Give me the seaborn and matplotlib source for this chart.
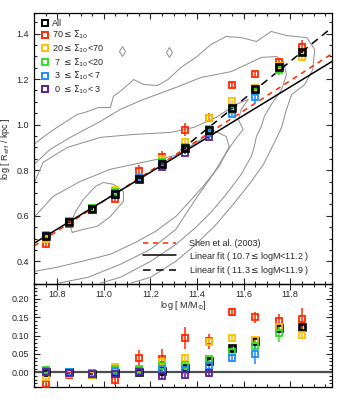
import numpy as np
import matplotlib
matplotlib.use("Agg")
import matplotlib.pyplot as plt
from matplotlib.lines import Line2D
from matplotlib.ticker import MultipleLocator, FormatStrFormatter
import seaborn as sns

# mass bins (log M/Msun)
logm = [10.75, 10.85, 10.95, 11.05, 11.15, 11.25, 11.35, 11.45, 11.55, 11.65, 11.75, 11.85]
nan = np.nan

# log Reff per environment bin
reff_all = [0.512, 0.573, 0.631, 0.694, 0.762, 0.827, 0.897, 0.977, 1.074, 1.157, 1.254, 1.320]
reff_s70 = [0.477, 0.565, 0.632, 0.675, 0.798, 0.859, 0.978, 1.031, 1.173, 1.222, 1.273, 1.341]
reff_s20 = [0.498, 0.569, 0.629, 0.711, 0.766, 0.851, 0.925, 1.029, 1.102, 1.160, 1.256, 1.299]
reff_s7 = [0.516, 0.575, 0.633, 0.705, 0.770, 0.838, 0.904, 0.982, 1.063, 1.144, 1.241, nan]
reff_s3 = [0.513, 0.573, 0.631, 0.700, 0.764, 0.830, 0.892, 0.963, 1.047, 1.121, nan, nan]
reff_s0 = [0.512, 0.572, 0.630, 0.693, 0.760, 0.812, 0.877, 0.946, nan, nan, nan, nan]

# residuals from the low-mass linear fit
res_all = [0.002, 0.000, -0.004, -0.003, 0.002, 0.005, 0.012, 0.030, 0.065, 0.085, 0.120, 0.123]
res_s70 = [-0.033, -0.008, -0.003, -0.022, 0.038, 0.037, 0.093, 0.084, 0.164, 0.150, 0.139, 0.144]
res_s20 = [-0.012, -0.004, -0.006, 0.014, 0.006, 0.029, 0.040, 0.082, 0.093, 0.088, 0.122, 0.102]
res_s7 = [0.006, 0.002, -0.002, 0.008, 0.010, 0.016, 0.019, 0.035, 0.054, 0.072, 0.107, nan]
res_s3 = [0.003, 0.000, -0.004, 0.003, 0.004, 0.008, 0.007, 0.016, 0.038, 0.049, nan, nan]
res_s0 = [0.002, -0.001, -0.005, -0.004, 0.000, -0.010, -0.008, -0.001, nan, nan, nan, nan]

# errors
err_all = [0.004] * 12
err_s70 = [0.008, 0.010, 0.010, 0.012, 0.024, 0.026, 0.030, 0.020, 0.012, 0.015, 0.020, 0.032]
err_s20 = [0.006, 0.006, 0.006, 0.008, 0.008, 0.010, 0.010, 0.010, 0.008, 0.010, 0.012, 0.012]
err_s7 = [0.005, 0.005, 0.005, 0.006, 0.006, 0.008, 0.008, 0.008, 0.010, 0.012, 0.025, nan]
err_s3 = [0.005, 0.005, 0.005, 0.006, 0.006, 0.008, 0.008, 0.008, 0.010, 0.025, nan, nan]
err_s0 = [0.005, 0.005, 0.005, 0.006, 0.006, 0.008, 0.008, 0.012, nan, nan, nan, nan]

labels = ["All", r"70$\leq\Sigma_{10}$", r"20$\leq\Sigma_{10}$<70", r" 7 $\leq\Sigma_{10}$<20",
          r" 3 $\leq\Sigma_{10}$< 7", r" 0 $\leq\Sigma_{10}$< 3"]
colors = ["black", "#ff2a00", "#ffbf00", "#30e020", "#1e8cff", "#5b1f9e"]

# fit lines: (x range, pivot x, pivot y, slope)
shen_range = [10.7, 11.98]
shen_pivot = [10.7, 0.467]
shen_slope = 0.66
fit1_range = [10.7, 11.98]
fit1_pivot = [10.7, 0.479]
fit1_slope = 0.624
fit2_range = [11.33, 11.98]
fit2_pivot = [11.98, 1.427]
fit2_slope = 0.83

# density contours (traced)
cont_x = [
    [10.864, 10.912, 10.972, 11.028, 11.084, 11.084, 11.041, 10.998, 10.964, 10.912, 10.877, 10.856, 10.864],
    [10.704, 10.782, 10.899, 11.028, 11.188, 11.309, 11.417, 11.469, 11.525, 11.538, 11.495, 11.426, 11.365,
     11.309, 11.223, 11.136, 11.028, 10.907, 10.799, 10.704],
    [10.704, 10.739, 10.843, 10.985, 11.128, 11.287, 11.387, 11.482, 11.568, 11.620, 11.590, 11.577, 11.598,
     11.555, 11.516, 11.469, 11.408, 11.365, 11.309, 11.201, 11.071, 10.933, 10.804],
    [10.700, 10.769, 10.856, 10.920, 10.985, 11.071, 11.171, 11.309, 11.417, 11.547, 11.676, 11.741, 11.771,
     11.784, 11.763, 11.719, 11.689, 11.676, 11.655, 11.646, 11.633, 11.590, 11.525, 11.460, 11.395, 11.309,
     11.201, 11.071, 10.985],
    [10.700, 10.748, 10.799, 10.886, 10.920, 10.976, 11.028, 11.041, 11.080, 11.128, 11.171, 11.231, 11.275,
     11.331, 11.395, 11.460, 11.525, 11.590, 11.655, 11.719, 11.784, 11.871, 11.905, 11.897, 11.862, 11.806,
     11.784, 11.763, 11.728, 11.685, 11.624, 11.555, 11.482, 11.395, 11.309, 11.201, 11.115],
]
cont_y = [
    [0.527, 0.540, 0.554, 0.597, 0.663, 0.707, 0.738, 0.746, 0.729, 0.672, 0.615, 0.554, 0.527],
    [0.597, 0.685, 0.751, 0.804, 0.839, 0.865, 0.935, 0.975, 0.948, 0.904, 0.817, 0.729, 0.659,
     0.597, 0.532, 0.483, 0.431, 0.400, 0.374, 0.356],
    [0.751, 0.834, 0.900, 0.944, 0.957, 0.966, 0.988, 1.032, 1.089, 1.111, 1.067, 1.023, 0.979,
     0.922, 0.861, 0.782, 0.694, 0.628, 0.540, 0.453, 0.387, 0.330, 0.304],
    [0.825, 0.891, 0.944, 0.979, 1.014, 1.067, 1.111, 1.163, 1.207, 1.233, 1.295, 1.299, 1.277,
     1.220, 1.154, 1.089, 1.036, 0.992, 0.948, 0.904, 0.861, 0.782, 0.694, 0.615, 0.549, 0.474,
     0.400, 0.330, 0.304],
    [0.913, 0.952, 0.988, 1.045, 1.054, 1.075, 1.075, 1.124, 1.154, 1.198, 1.176, 1.172, 1.198,
     1.251, 1.295, 1.352, 1.387, 1.382, 1.365, 1.409, 1.391, 1.382, 1.330, 1.242, 1.176, 1.132,
     1.067, 0.988, 0.913, 0.825, 0.738, 0.650, 0.562, 0.474, 0.400, 0.330, 0.304],
]
islands_x = [11.080, 11.279]
islands_y = [1.325, 1.321]

sns.set_theme(style="ticks")
plt.rcParams["font.family"] = ["Liberation Sans", "DejaVu Sans"]
plt.rcParams["mathtext.fontset"] = "dejavusans"
plt.rcParams["font.size"] = 6.5

fig = plt.figure(figsize=(3.5, 4.07), dpi=100)
ax1 = fig.add_axes([0.097, 0.302, 0.852, 0.666])
ax2 = fig.add_axes([0.097, 0.049, 0.852, 0.253])
ax2.patch.set_alpha(0)

# contours
for cx, cy in zip(cont_x, cont_y):
    sns.lineplot(x=cx, y=cy, sort=False, estimator=None, color="0.55", lw=0.7, ax=ax1)
ax1.plot(islands_x, islands_y, ls="none", marker="d", ms=5, mfc="none", mec="0.55", mew=0.7)

# lines
xs = np.array(shen_range)
sns.lineplot(x=xs, y=shen_pivot[1] + shen_slope * (xs - shen_pivot[0]), color="#ff2a00",
             lw=1.1, ax=ax1)
ax1.lines[-1].set_dashes([3.5, 3])
xs = np.array(fit1_range)
sns.lineplot(x=xs, y=fit1_pivot[1] + fit1_slope * (xs - fit1_pivot[0]), color="black", lw=1.1, ax=ax1)
xs = np.array(fit2_range)
sns.lineplot(x=xs, y=fit2_pivot[1] + fit2_slope * (xs - fit2_pivot[0]), color="black", lw=1.1, ax=ax1)
ax1.lines[-1].set_dashes([5, 3.5])

reffs = [reff_all, reff_s70, reff_s20, reff_s7, reff_s3, reff_s0]
ress = [res_all, res_s70, res_s20, res_s7, res_s3, res_s0]
errs = [err_all, err_s70, err_s20, err_s7, err_s3, err_s0]

# main panel: coloured first, All on top
for i in [1, 2, 3, 4, 5, 0]:
    mew = 1.9 if i == 0 else 1.3
    ax1.errorbar(logm, reffs[i], yerr=errs[i], fmt="s", ms=5, mfc="none", mec=colors[i], mew=mew,
                 ecolor=colors[i], elinewidth=1.1, capsize=0, zorder=5)

# residual panel
ax2.axhline(0, color="0.3", lw=1.6, zorder=1)
for i in [0, 1, 2, 3, 4, 5]:
    mew = 1.9 if i == 0 else 1.3
    ax2.errorbar(logm, ress[i], yerr=errs[i], fmt="s", ms=5, mfc="none", mec=colors[i], mew=mew,
                 ecolor=colors[i], elinewidth=1.1, capsize=0, zorder=5)

for ax in (ax1, ax2):
    ax.set_xlim(10.7, 11.98)
    ax.xaxis.set_major_locator(MultipleLocator(0.2))
    ax.xaxis.set_minor_locator(MultipleLocator(0.05))
    ax.tick_params(which="both", direction="in", top=True, right=True, width=0.8, labelsize=6.5)
    ax.tick_params(which="major", length=4)
    ax.tick_params(which="minor", length=2)
    for s in ax.spines.values():
        s.set_linewidth(0.9)
        s.set_color("black")

ax1.set_ylim(0.3, 1.49)
ax1.yaxis.set_major_locator(MultipleLocator(0.2))
ax1.yaxis.set_minor_locator(MultipleLocator(0.05))
ax1.yaxis.set_major_formatter(FormatStrFormatter("%.1f"))
ax1.xaxis.set_major_formatter(FormatStrFormatter("%.1f"))
ax1.tick_params(axis="x", pad=4)
ax1.set_xlabel(r"log [ M/M$_{\odot}$]", fontsize=6.5, labelpad=0)
ax1.set_ylabel(r"log [ R$_{\rm eff}$ / kpc ]", fontsize=6.5, labelpad=3)

ax2.set_ylim(-0.04, 0.24)
ax2.yaxis.set_major_locator(MultipleLocator(0.05))
ax2.yaxis.set_minor_locator(MultipleLocator(0.01))
ax2.yaxis.set_major_formatter(FormatStrFormatter("%.2f"))
ax2.tick_params(axis="x", labelbottom=False)

# legends
pt_handles = [Line2D([], [], ls="none", marker="s", ms=5, mfc="none", mec=c, mew=1.4) for c in colors]
leg1 = ax1.legend(pt_handles, labels, loc="upper left", bbox_to_anchor=(0.02, 0.985), frameon=False,
                  fontsize=6.5, handlelength=0.8, handletextpad=0.3, labelspacing=0.12, borderpad=0.2,
                  borderaxespad=0)
ax1.add_artist(leg1)
ln_handles = [Line2D([], [], color="#ff2a00", lw=1.1, dashes=[3.5, 3]),
              Line2D([], [], color="black", lw=1.1),
              Line2D([], [], color="black", lw=1.1, dashes=[5, 3.5])]
ln_labels = ["Shen et al. (2003)", r"Linear fit ( 10.7$\leq$logM<11.2 )", r"Linear fit ( 11.3$\leq$logM<11.9 )"]
ax1.legend(ln_handles, ln_labels, loc="lower left", bbox_to_anchor=(0.36, 0.02), frameon=False,
           fontsize=6.5, handlelength=3.6, handletextpad=1.5, labelspacing=0.15, borderpad=0.2,
           borderaxespad=0)

fig.savefig("out.png", dpi=100)
